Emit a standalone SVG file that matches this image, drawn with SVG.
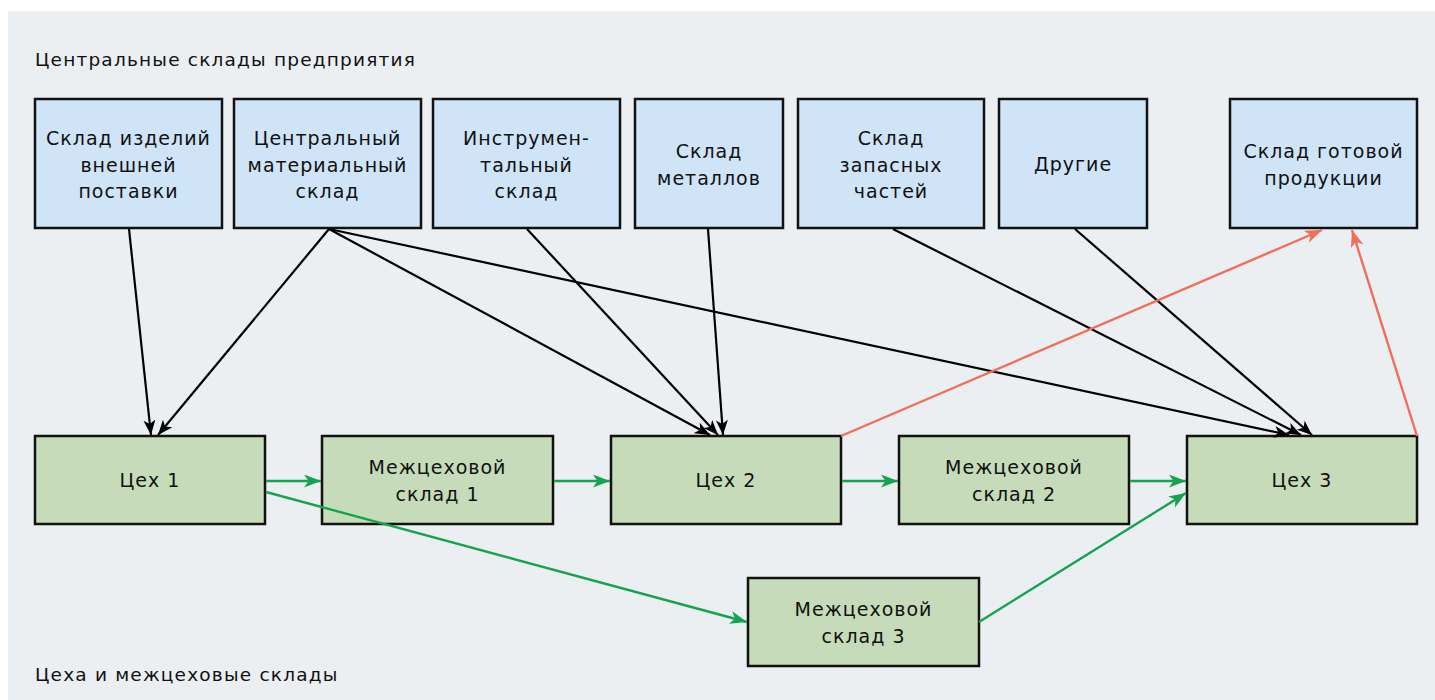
<svg xmlns="http://www.w3.org/2000/svg" width="1435" height="700" viewBox="0 0 1435 700">
<style>
.bg{fill:#ebeff2}
.top rect{fill:#cfe4f7;stroke:#111;stroke-width:2.5}
.bot rect{fill:#c5dbb9;stroke:#111;stroke-width:2.5}
text{font-family:"DejaVu Sans","Noto Sans",sans-serif;font-size:19px;letter-spacing:1px;fill:#111;text-anchor:middle;dominant-baseline:central}
.ttl{font-size:18.5px;letter-spacing:1.2px;text-anchor:start;dominant-baseline:auto}
.k{stroke:#000;stroke-width:2.2;fill:none;marker-end:url(#ak)}
.g{stroke:#16a34f;stroke-width:2.4;fill:none;marker-end:url(#ag)}
.r{stroke:#ef6f5a;stroke-width:2.4;fill:none;marker-end:url(#ar)}
</style>
<defs>
<marker id="ak" markerUnits="userSpaceOnUse" markerWidth="17" markerHeight="13" refX="15" refY="6" orient="auto"><path d="M0,0 L15,6 L0,12 L4,6 Z" fill="#000"/></marker>
<marker id="ag" markerUnits="userSpaceOnUse" markerWidth="19" markerHeight="14" refX="17" refY="6.5" orient="auto"><path d="M0,0 L17,6.5 L0,13 L4.5,6.5 Z" fill="#16a34f"/></marker>
<marker id="ar" markerUnits="userSpaceOnUse" markerWidth="19" markerHeight="14" refX="17" refY="6.5" orient="auto"><path d="M0,0 L17,6.5 L0,13 L4.5,6.5 Z" fill="#ef6f5a"/></marker>
</defs>
<rect class="bg" x="8" y="11" width="1427" height="689"/>
<text class="ttl" x="35" y="66">Центральные склады предприятия</text>
<text class="ttl" x="35" y="681">Цеха и межцеховые склады</text>

<g id="n1" class="top"><rect x="35" y="99" width="187" height="129"/><text x="128.5" y="138">Склад изделий</text><text x="128.5" y="165">внешней</text><text x="128.5" y="191">поставки</text></g>
<g id="n2" class="top"><rect x="234" y="99" width="187" height="129"/><text x="327.5" y="138">Центральный</text><text x="327.5" y="165">материальный</text><text x="327.5" y="191">склад</text></g>
<g id="n3" class="top"><rect x="433" y="99" width="187" height="129"/><text x="526.5" y="138">Инструмен-</text><text x="526.5" y="165">тальный</text><text x="526.5" y="191">склад</text></g>
<g id="n4" class="top"><rect x="635" y="99" width="148" height="129"/><text x="709" y="151">Склад</text><text x="709" y="178">металлов</text></g>
<g id="n5" class="top"><rect x="798" y="99" width="186" height="129"/><text x="891" y="138">Склад</text><text x="891" y="165">запасных</text><text x="891" y="191">частей</text></g>
<g id="n6" class="top"><rect x="999" y="99" width="148" height="129"/><text x="1073" y="164">Другие</text></g>
<g id="n7" class="top"><rect x="1230" y="99" width="187" height="129"/><text x="1323.5" y="151">Склад готовой</text><text x="1323.5" y="178">продукции</text></g>

<g id="c1" class="bot"><rect x="35" y="436" width="230" height="88"/><text x="150" y="480">Цех 1</text></g>
<g id="m1" class="bot"><rect x="322" y="436" width="231" height="88"/><text x="437.5" y="467">Межцеховой</text><text x="437.5" y="494">склад 1</text></g>
<g id="c2" class="bot"><rect x="611" y="436" width="230" height="88"/><text x="726" y="480">Цех 2</text></g>
<g id="m2" class="bot"><rect x="899" y="436" width="230" height="88"/><text x="1014" y="467">Межцеховой</text><text x="1014" y="494">склад 2</text></g>
<g id="c3" class="bot"><rect x="1187" y="436" width="230" height="88"/><text x="1302" y="480">Цех 3</text></g>
<g id="m3" class="bot"><rect x="748" y="578" width="231" height="88"/><text x="863.5" y="609">Межцеховой</text><text x="863.5" y="636">склад 3</text></g>

<g id="connectors">
<line class="k" x1="129" y1="229" x2="151" y2="435"/>
<line class="k" x1="329" y1="229" x2="158" y2="435"/>
<line class="k" x1="329" y1="229" x2="710" y2="435"/>
<line class="k" x1="329" y1="229" x2="1289" y2="435"/>
<line class="k" x1="527" y1="229" x2="718" y2="435"/>
<line class="k" x1="708" y1="229" x2="723" y2="435"/>
<line class="k" x1="893" y1="229" x2="1301" y2="435"/>
<line class="k" x1="1075" y1="229" x2="1312" y2="435"/>
<line class="r" x1="841" y1="436" x2="1322" y2="230"/>
<line class="r" x1="1417" y1="436" x2="1352" y2="230"/>
<line class="g" x1="266" y1="481" x2="321" y2="481"/>
<line class="g" x1="554" y1="481" x2="610" y2="481"/>
<line class="g" x1="842" y1="481" x2="898" y2="481"/>
<line class="g" x1="1130" y1="481" x2="1186" y2="481"/>
<line class="g" x1="266" y1="492" x2="747" y2="622"/>
<line class="g" x1="979" y1="622" x2="1186" y2="493"/>
</g>
</svg>
